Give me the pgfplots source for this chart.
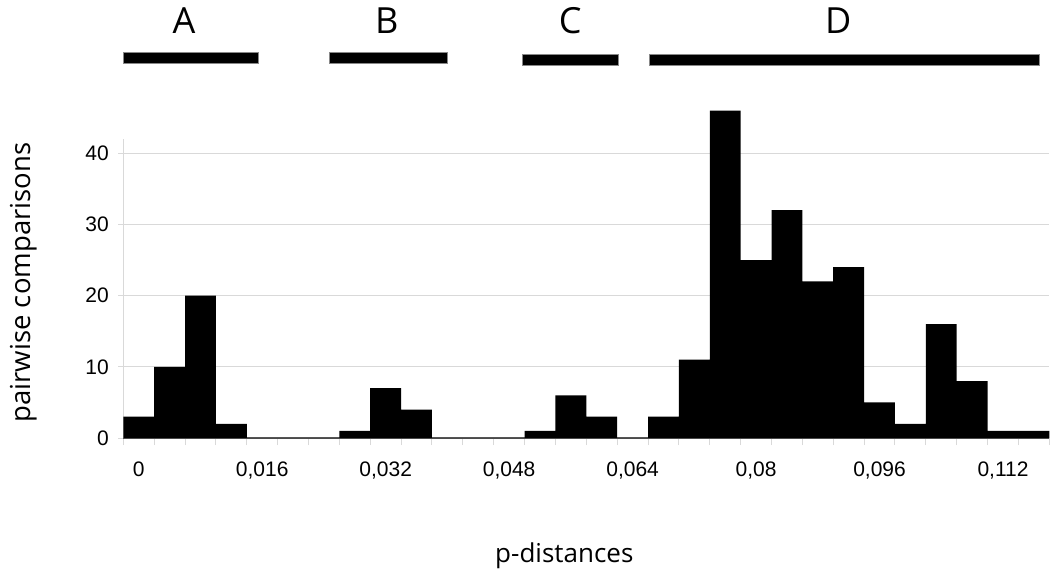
\documentclass[border=0pt]{standalone}
\usepackage{fontspec}
\setmainfont{Liberation Sans}
\newfontfamily\osans{Open Sans}
\usepackage{pgfplots}
\pgfplotsset{compat=1.18}
\definecolor{gridgray}{HTML}{D9D9D9}
\definecolor{axisdark}{HTML}{555555}
\definecolor{edgegray}{HTML}{888888}
\begin{document}
\begin{tikzpicture}
\useasboundingbox (-123.3bp,-131bp) rectangle (926.7bp,438bp);
\begin{axis}[
  scale only axis, width=926bp, height=299bp,
  xmin=-0.5, xmax=29.5, ymin=0, ymax=42,
  axis lines*=left, clip=false,
  x axis line style={draw=axisdark, line width=1.2bp},
  y axis line style={draw=gridgray, line width=1bp},
  tick align=outside, major tick length=5bp, minor tick length=7bp,
  ytick={0,10,20,30,40},
  ymajorgrids, grid style={draw=gridgray, line width=1bp},
  ytick style={draw=gridgray, line width=1bp},
  xtick={0,4,8,12,16,20,24,28},
  xticklabels={0,{0,016},{0,032},{0,048},{0,064},{0,08},{0,096},{0,112}},
  xtick style={draw=none},
  minor xtick={-0.5,0.5,...,29.5},
  minor x tick style={draw=gridgray, line width=1bp},
  /pgf/number format/assume math mode=true,
  tick label style={font=\fontsize{21bp}{24bp}\selectfont},
  yticklabel style={xshift=-6bp},
  xticklabel style={yshift=-15bp},
  xlabel={p-distances},
  xlabel style={font=\osans\fontsize{26bp}{30bp}\selectfont, at={(axis description cs:0.5,0)}, anchor=base, xshift=-22bp, yshift=-124bp},
  ylabel={pairwise comparisons},
  ylabel style={font=\osans\fontsize{27.5bp}{30bp}\selectfont, at={(axis description cs:0,0.52)}, anchor=center, yshift=100bp},
]
\addplot[ybar, bar width=1, fill=black, draw=none] coordinates {
 (0,3) (1,10) (2,20) (3,2) (4,0) (5,0) (6,0) (7,1) (8,7) (9,4)
 (10,0) (11,0) (12,0) (13,1) (14,6) (15,3) (16,0) (17,3) (18,11) (19,46)
 (20,25) (21,32) (22,22) (23,24) (24,5) (25,2) (26,16) (27,8) (28,1) (29,1)
};
% group bars
\draw[fill=black, draw=edgegray, line width=1bp] (axis cs:-0.5,52.63) rectangle (axis cs:3.873,54.12);
\draw[fill=black, draw=edgegray, line width=1bp] (axis cs:6.173,52.63) rectangle (axis cs:9.995,54.12);
\draw[fill=black, draw=edgegray, line width=1bp] (axis cs:12.424,52.39) rectangle (axis cs:15.533,53.90);
\draw[fill=black, draw=edgegray, line width=1bp] (axis cs:16.56,52.39) rectangle (axis cs:29.19,53.90);
\node[font=\osans\fontsize{36bp}{40bp}\selectfont, anchor=base, inner sep=0pt] at (axis cs:1.466,56.85) {A};
\node[font=\osans\fontsize{36bp}{40bp}\selectfont, anchor=base, inner sep=0pt] at (axis cs:8.04,56.85) {B};
\node[font=\osans\fontsize{36bp}{40bp}\selectfont, anchor=base, inner sep=0pt] at (axis cs:13.98,56.85) {C};
\node[font=\osans\fontsize{36bp}{40bp}\selectfont, anchor=base, inner sep=0pt] at (axis cs:22.66,56.85) {D};
\end{axis}
\end{tikzpicture}
\end{document}
